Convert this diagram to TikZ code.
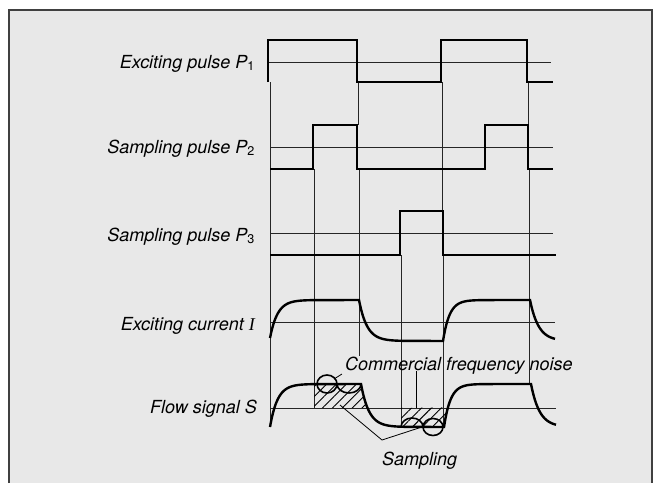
\documentclass[tikz,border=0pt]{standalone}
\usepackage{fontspec}
\setmainfont{TeX Gyre Heros}
\newfontfamily\serifit{Liberation Serif}
\usetikzlibrary{patterns.meta}
\begin{document}
\begin{tikzpicture}[x=1pt,y=-1pt,
  wave/.style={line width=2.4pt, line join=miter},
  thinline/.style={line width=0.9pt, black!85},
  noise/.style={line width=1.6pt},
  leader/.style={line width=0.8pt},
  lbl/.style={font=\fontsize{18}{20}\selectfont\itshape, anchor=base east, inner sep=0pt},
  hatch/.style={pattern={Lines[angle=45,distance=7pt,line width=0.9pt]}}]

\useasboundingbox (0,0) rectangle (657,483);
\fill[black!9] (9,10) rectangle (652,483);
\draw[line width=1.3pt, black!75] (9,483) -- (9,10) -- (652,10) -- (652,483);

% baselines
\draw[thinline] (268,62) -- (551,62);
\draw[thinline] (270,147) -- (553,147);
\draw[thinline] (270,233) -- (553,233);
\draw[thinline] (270,322) -- (555,322);
\draw[thinline] (270,408) -- (556,408);

% vertical timing lines
\draw[thinline] (270,82) -- (270,427);
\draw[thinline] (314,169) -- (314,408);
\draw[thinline] (358,82) -- (358,125);
\draw[thinline] (359,169) -- (359,356);
\draw[thinline] (401,255) -- (401,427);
\draw[thinline] (442,82) -- (442,211);
\draw[thinline] (443,255) -- (443,427);
\draw[thinline] (528,82) -- (528,125);
\draw[thinline] (529,169) -- (529,384);

% hatched sampling regions
\path[hatch] (314,408) -- (314,384) -- (361,384)
  -- plot[domain=361:367.5,samples=8] (\x,{427-43*exp(-(\x-361)/8)}) -- cycle;
\path[hatch] (401,408) -- (401,427) -- (444,427)
  -- plot[domain=444:448,samples=6] (\x,{384+43*exp(-(\x-444)/6.5)}) -- cycle;

% pulses
\draw[wave] (268,82) -- (268,40) -- (357,40) -- (357,82) -- (441,82) -- (441,40) -- (527,40) -- (527,82) -- (553,82);
\draw[wave] (270,169) -- (313,169) -- (313,125) -- (357,125) -- (357,169) -- (485,169) -- (485,125) -- (528,125) -- (528,169) -- (553,169);
\draw[wave] (270,255) -- (400,255) -- (400,211) -- (443,211) -- (443,255) -- (556,255);

% exciting current
\draw[wave] plot[domain=270:312,samples=40] (\x,{300+38*exp(-(\x-270)/7.5)})
  -- (359,300) -- plot[domain=359:402,samples=40] (\x,{341-41*exp(-(\x-359)/8)})
  -- (443,341) -- plot[domain=443:486,samples=40] (\x,{300+41*exp(-(\x-443)/6.5)})
  -- (530,300) -- plot[domain=530:555,samples=25] (\x,{341-41*exp(-(\x-530)/8.5)});

% flow signal
\draw[wave] plot[domain=270:314,samples=40] (\x,{384+43*exp(-(\x-270)/7.5)})
  -- (361,384) -- plot[domain=361:405,samples=40] (\x,{427-43*exp(-(\x-361)/8)})
  -- (444,427) -- plot[domain=444:488,samples=40] (\x,{384+43*exp(-(\x-444)/6.5)})
  -- (531,384) -- plot[domain=531:556,samples=25] (\x,{427-43*exp(-(\x-531)/8.5)});

% noise
\draw[noise] (327,384) ellipse [x radius=10pt, y radius=9pt];
\draw[noise] (337,384) arc[start angle=180, end angle=360, x radius=12pt, y radius=9pt];
\draw[noise] (401,427) arc[start angle=180, end angle=0, x radius=11pt, y radius=9pt];
\draw[noise] (433,427) ellipse [x radius=10pt, y radius=8.5pt];

% labels
\node[lbl] (p1) at (255,68) {Exciting pulse P\textsubscript{\upshape 1}};
\node[lbl] (p2) at (255,153) {Sampling pulse P\textsubscript{\upshape 2}};
\node[lbl] (p3) at (255,241) {Sampling pulse P\textsubscript{\upshape 3}};
\node[lbl] (ci) at (255,330) {Exciting current {\serifit I}};
\node[lbl] (fs) at (257,413) {Flow signal S};
\node[lbl, anchor=base west] (cfn) at (345,370) {Commercial frequency noise};
\node[lbl, anchor=base west] (smp) at (382,465) {Sampling};

% leaders
\coordinate (sa) at (382,440);
\coordinate (s1) at (340,405);
\coordinate (s2) at (425,426);
\draw[leader] (s1) -- (sa) -- (s2);
\coordinate (n1) at (334,379);
\coordinate (n1b) at (342,374);
\draw[leader] (n1) -- (n1b);
\coordinate (n2) at (416,371);
\coordinate (n2b) at (416,408);
\draw[leader] (n2) -- (n2b);
\end{tikzpicture}
\end{document}
